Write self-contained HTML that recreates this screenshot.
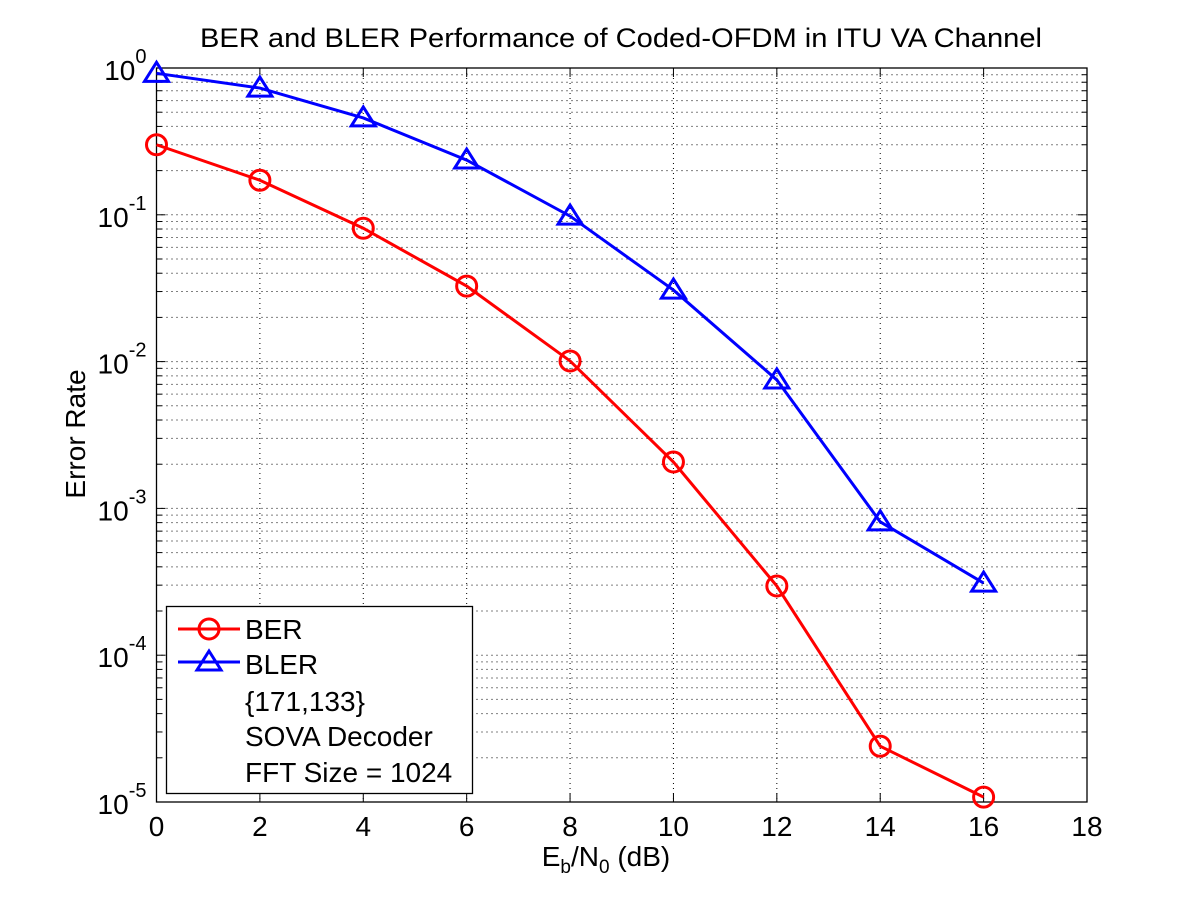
<!DOCTYPE html>
<html><head><meta charset="utf-8">
<style>
html,body{margin:0;padding:0;background:#fff;}
svg{display:block;font-family:"Liberation Sans",Arial,sans-serif;}
</style></head>
<body>
<svg id="chart" width="1201" height="901" viewBox="0 0 1201 901">
<rect x="0" y="0" width="1201" height="901" fill="#fff"/>
<g id="grid"></g>
<g id="axes"></g>
<g id="series"></g>
<text x="621" y="47" font-size="27" text-anchor="middle" textLength="842" lengthAdjust="spacingAndGlyphs">BER and BLER Performance of Coded-OFDM in ITU VA Channel</text>
<text x="606" y="866" font-size="28" text-anchor="middle">E<tspan font-size="19" dy="7">b</tspan><tspan dy="-7">/N</tspan><tspan font-size="19" dy="7">0</tspan><tspan dy="-7"> (dB)</tspan></text>
<text transform="translate(85,434) rotate(-90)" font-size="28" text-anchor="middle">Error Rate</text>
<g id="legend">
<rect x="166.5" y="606.5" width="306" height="187" fill="#fff" stroke="#000" stroke-width="1.3"/>
<line x1="178" y1="629" x2="240" y2="629" stroke="#f00" stroke-width="3"/>
<circle cx="209" cy="629" r="10" fill="none" stroke="#f00" stroke-width="3"/>
<text x="245" y="639" font-size="28">BER</text>
<line x1="178" y1="662" x2="240" y2="662" stroke="#00f" stroke-width="3"/>
<polygon points="209,651 221,670 197,670" fill="none" stroke="#00f" stroke-width="3"/>
<text x="245" y="674" font-size="28">BLER</text>
<text x="245" y="711" font-size="28">{171,133}</text>
<text x="245" y="746" font-size="28">SOVA Decoder</text>
<text x="245" y="782" font-size="28">FFT Size = 1024</text>
</g>
</svg>
<script>
const xValues = [0, 2, 4, 6, 8, 10, 12, 14, 16];
const berValues = [0.30, 0.172, 0.081, 0.0327, 0.0101, 0.00207, 0.000296, 0.000024, 0.0000108];
const blerValues = [0.92, 0.73, 0.457, 0.236, 0.098, 0.0307, 0.0075, 0.00081, 0.00031];
const xTicks = [0, 2, 4, 6, 8, 10, 12, 14, 16, 18];
const yDecades = [0, -1, -2, -3, -4, -5];

const L = 156.5, R = 1087, T = 68, B = 802;
const xMin = 0, xMax = 18, yMinExp = -5, yMaxExp = 0;
function xs(v){ return L + (v - xMin) / (xMax - xMin) * (R - L); }
function ys(v){ return T + (yMaxExp - Math.log10(v)) / (yMaxExp - yMinExp) * (B - T); }
const NS = "http://www.w3.org/2000/svg";
function mk(tag, attrs, parent){
  const e = document.createElementNS(NS, tag);
  for (const k in attrs) e.setAttribute(k, attrs[k]);
  parent.appendChild(e);
  return e;
}
const grid = document.getElementById('grid');
const axes = document.getElementById('axes');
const series = document.getElementById('series');

xTicks.forEach(t => {
  const x = xs(t);
  if (t > xMin && t < xMax) {
    const g = mk('line', {x1:x, y1:T, x2:x, y2:B, stroke:'#000', 'stroke-width':1, 'stroke-dasharray':'1,4'}, grid);
    
    
  }
  const tk1 = mk('line', {x1:x, y1:B, x2:x, y2:B-9, stroke:'#000', 'stroke-width':1}, axes);
  
  
  const tk2 = mk('line', {x1:x, y1:T, x2:x, y2:T+9, stroke:'#000', 'stroke-width':1}, axes);
  
  
  const lb = mk('text', {x:x, y:B+34, 'font-size':28, 'text-anchor':'middle'}, axes);
  lb.textContent = t;
  
  
});
yDecades.forEach(d => {
  const y = ys(Math.pow(10, d));
  if (d > yMinExp && d < yMaxExp) {
    const g = mk('line', {x1:L, y1:y, x2:R, y2:y, stroke:'#000', 'stroke-width':1, 'stroke-dasharray':'1,4'}, grid);
    
    
  }
  const tk = mk('line', {x1:L, y1:y, x2:L+9, y2:y, stroke:'#000', 'stroke-width':1}, axes);
  
  
  const tk2 = mk('line', {x1:R, y1:y, x2:R-9, y2:y, stroke:'#000', 'stroke-width':1}, axes);
  
  
  const lb = mk('text', {x:L-10, y:y+12, 'font-size':28, 'text-anchor':'end'}, axes);
  
  
  const base = document.createElementNS(NS, 'tspan'); base.textContent = '10'; lb.appendChild(base);
  const ex = document.createElementNS(NS, 'tspan'); ex.setAttribute('dy', '-17'); ex.setAttribute('font-size', '20'); ex.textContent = d; lb.appendChild(ex);
  if (d > yMinExp) {
    for (let m = 2; m <= 9; m++) {
      const v = m * Math.pow(10, d - 1);
      const ym = ys(v);
      const g2 = mk('line', {x1:L, y1:ym, x2:R, y2:ym, stroke:'#000', 'stroke-width':1, 'stroke-dasharray':'1,4'}, grid);
      
      
      const mt = mk('line', {x1:L, y1:ym, x2:L+5, y2:ym, stroke:'#000', 'stroke-width':1}, axes);
      
      
      const mt2 = mk('line', {x1:R, y1:ym, x2:R-5, y2:ym, stroke:'#000', 'stroke-width':1}, axes);
      
      
    }
  }
});
const frame = mk('rect', {x:L, y:T, width:R-L, height:B-T, fill:'none', stroke:'#000', 'stroke-width':1.3}, axes);



const berPts = xValues.map((x,i) => xs(x) + ',' + ys(berValues[i])).join(' ');
const berLine = mk('polyline', {points:berPts, fill:'none', stroke:'#f00', 'stroke-width':3}, series);


xValues.forEach((x,i) => {
  const c = mk('circle', {cx:xs(x), cy:ys(berValues[i]), r:10, fill:'none', stroke:'#f00', 'stroke-width':3}, series);
  
  
});
const blerPts = xValues.map((x,i) => xs(x) + ',' + ys(blerValues[i])).join(' ');
const blerLine = mk('polyline', {points:blerPts, fill:'none', stroke:'#00f', 'stroke-width':3}, series);


xValues.forEach((x,i) => {
  const cx = xs(x), cy = ys(blerValues[i]);
  const p = mk('polygon', {points:`${cx},${cy-11} ${cx+12},${cy+8} ${cx-12},${cy+8}`, fill:'none', stroke:'#00f', 'stroke-width':3}, series);
  
  
});
</script>
</body></html>
